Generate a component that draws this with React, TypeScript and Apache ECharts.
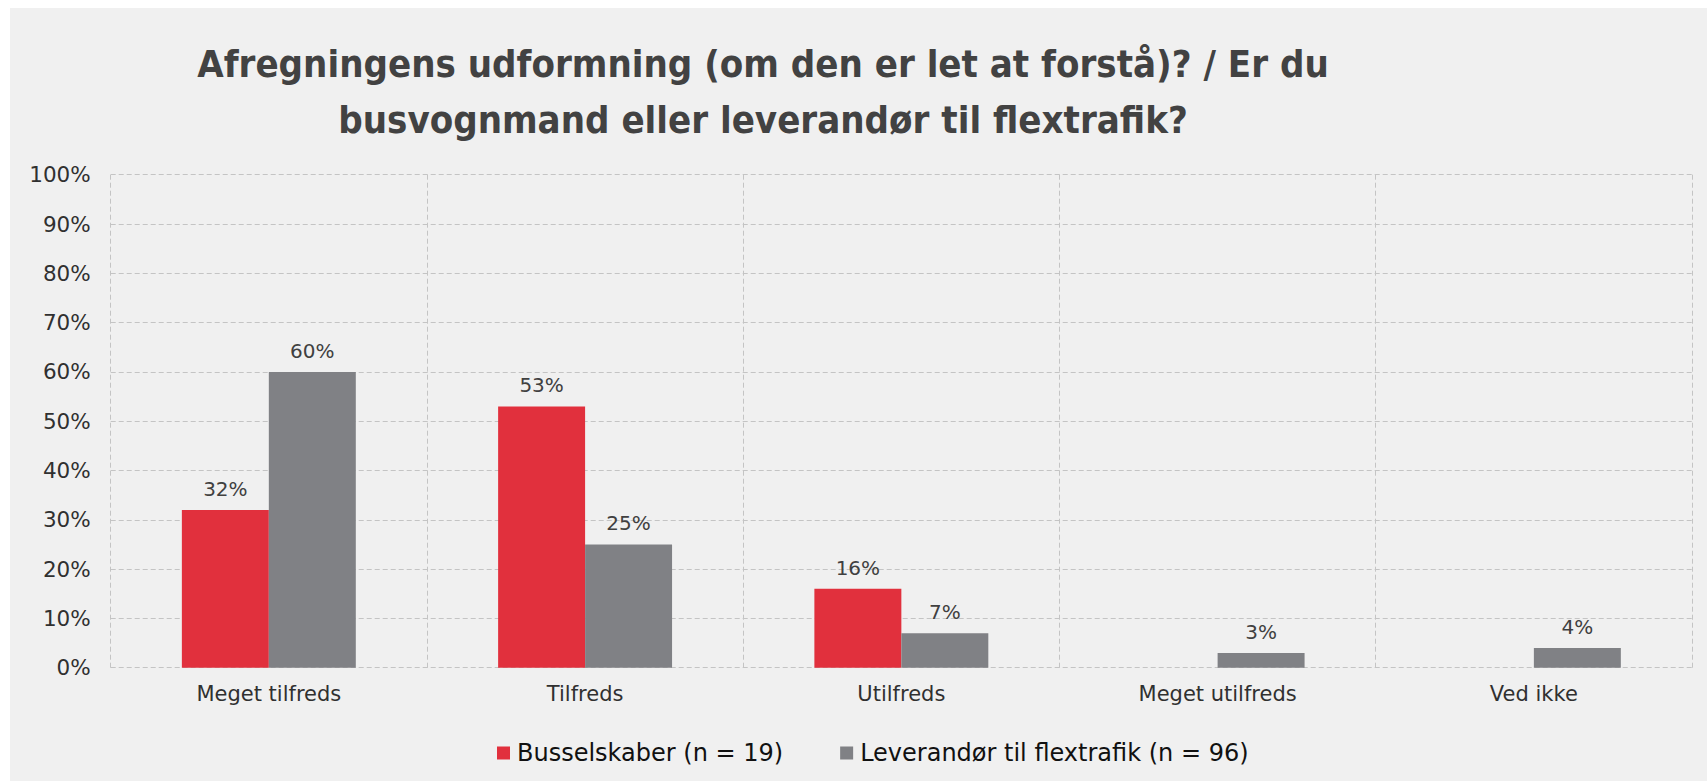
import React, { useEffect, useRef } from "react";
import * as echarts from "echarts";

const categories = ["Meget tilfreds", "Tilfreds", "Utilfreds", "Meget utilfreds", "Ved ikke"];
const busselskaber: (number | string)[] = [32, 53, 16, "-", "-"];
const leverandor: number[] = [60, 25, 7, 3, 4];
const seriesNames = ["Busselskaber (n = 19)", "Leverandør til flextrafik (n = 96)"];
const titleLines = [
  "Afregningens udformning (om den er let at forstå)? / Er du",
  "busvognmand eller leverandør til flextrafik?",
];

export default function App() {
  const ref = useRef<HTMLDivElement>(null);
  useEffect(() => {
    if (!ref.current) return;
    const chart = echarts.init(ref.current, undefined, { renderer: "svg" });
    const labelCfg = {
      show: true,
      position: "top" as const,
      distance: 11,
      fontFamily: "DejaVu Sans",
      fontSize: 20,
      color: "#404040",
      formatter: (p: any) => `${p.value}%`,
    };
    chart.setOption({
      animation: false,
      backgroundColor: "#f0f0f0",
      graphic: [
        {
          type: "text",
          x: 753,
          y: 28,
          style: {
            text: titleLines.join("\n"),
            textAlign: "center",
            textVerticalAlign: "top",
            fontFamily: "DejaVu Sans Condensed",
            fontWeight: "bold",
            fontSize: 38,
            lineHeight: 56,
            fill: "#424242",
          },
        },
      ],
      legend: {
        left: 482,
        top: 728,
        icon: "rect",
        itemWidth: 13,
        itemHeight: 13,
        itemGap: 57,
        textStyle: { fontFamily: "DejaVu Sans", fontSize: 24, color: "#111", padding: [0, 0, 0, 2] },
        data: seriesNames,
      },
      grid: { left: 100.7, right: 15, top: 166.7, bottom: 113.3 },
      xAxis: {
        type: "category",
        data: categories,
        axisLine: { show: false },
        axisTick: { show: false },
        axisLabel: { fontFamily: "DejaVu Sans", fontSize: 21, color: "#303030", margin: 16 },
        splitLine: { show: true, lineStyle: { type: [5, 3], color: "#c4c4c4", width: 1 } },
      },
      yAxis: {
        type: "value",
        min: 0,
        max: 100,
        interval: 10,
        axisLine: { show: false },
        axisTick: { show: false },
        axisLabel: { fontFamily: "DejaVu Sans", fontSize: 21.5, color: "#303030", margin: 20, formatter: "{value}%" },
        splitLine: { show: true, lineStyle: { type: [5, 3], color: "#c4c4c4", width: 1 } },
      },
      series: [
        {
          name: seriesNames[0],
          type: "bar",
          data: busselskaber,
          barGap: "0%",
          barCategoryGap: "45%",
          itemStyle: { color: "#e1303d" },
          label: labelCfg,
        },
        {
          name: seriesNames[1],
          type: "bar",
          data: leverandor,
          barGap: "0%",
          barCategoryGap: "45%",
          itemStyle: { color: "#808185" },
          label: labelCfg,
        },
      ],
    });
    return () => chart.dispose();
  }, []);
  return (
    <div
      ref={ref}
      style={{ position: "fixed", left: 10, top: 8, width: 1697, height: 773 }}
    />
  );
}
